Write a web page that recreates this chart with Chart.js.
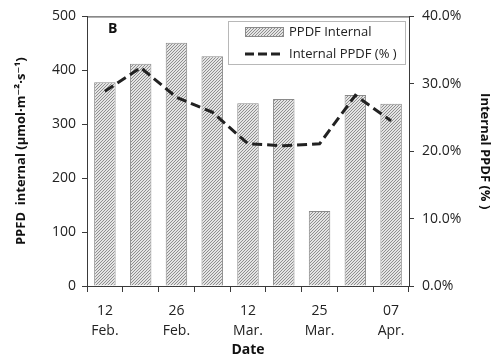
<!DOCTYPE html>
<html>
<head>
<meta charset="utf-8">
<script src="https://cdn.jsdelivr.net/npm/chart.js@4/dist/chart.umd.min.js"></script>
<style>
  html, body { margin: 0; padding: 0; background: #fff; }
  #wrap { width: 501px; height: 362px; }
</style>
</head>
<body>
<div id="wrap"><canvas id="chart" width="501" height="362"></canvas></div>
<script>
// ===== Data =====
const dateLabels   = [['12', 'Feb.'], '', ['26', 'Feb.'], '', ['12', 'Mar.'], '', ['25', 'Mar.'], '', ['07', 'Apr.']];
const ppfdInternal = [378, 412, 451, 426, 339, 347, 139, 354, 338];
const internalPct  = [28.9, 32.4, 28.0, 25.8, 21.1, 20.8, 21.1, 28.3, 24.5];
const seriesNames  = ['PPDF Internal', 'Internal PPDF (% )'];

const FONT = "'Open Sans', 'DejaVu Sans', sans-serif";
const AXIS = '#3a3a3a';

// hatched fill like the Excel pattern (3px diagonal)
function hatch() {
  const c = document.createElement('canvas');
  c.width = 3; c.height = 3;
  const g = c.getContext('2d');
  g.fillStyle = '#e4e4e4';
  g.fillRect(0, 0, 3, 3);
  g.fillStyle = '#8e8e8e';
  g.fillRect(2, 0, 1, 1);
  g.fillRect(1, 1, 1, 1);
  g.fillRect(0, 2, 1, 1);
  return g.createPattern(c, 'repeat');
}
const hatchFill = hatch();

// ===== Box, panel letter and legend =====
const extras = {
  id: 'extras',
  afterDraw(chart) {
    const { ctx, chartArea: a } = chart;
    ctx.save();
    ctx.strokeStyle = AXIS;
    ctx.lineWidth = 1;
    ctx.strokeRect(a.left + 0.5, a.top + 0.5, a.right - a.left, a.bottom - a.top);

    ctx.fillStyle = '#111';
    ctx.font = "bold 14px " + FONT;
    ctx.textBaseline = 'middle';
    ctx.fillText('B', a.left + 21, a.top + 13);

    // legend box
    const lx = 228, ly = 21, lw = 177, lh = 43;
    ctx.fillStyle = '#fff';
    ctx.fillRect(lx, ly, lw, lh);
    ctx.strokeStyle = '#b8b8b8';
    ctx.strokeRect(lx + 0.5, ly + 0.5, lw, lh);

    ctx.fillStyle = hatchFill;
    ctx.fillRect(245, 27, 38, 9);
    ctx.strokeStyle = '#8a8a8a';
    ctx.strokeRect(245.5, 27.5, 38, 9);

    ctx.strokeStyle = '#222';
    ctx.lineWidth = 3;
    ctx.setLineDash([9, 4]);
    ctx.beginPath();
    ctx.moveTo(245, 54); ctx.lineTo(284, 54);
    ctx.stroke();
    ctx.setLineDash([]);

    ctx.fillStyle = '#222';
    ctx.font = "13px " + FONT;
    ctx.fillText(seriesNames[0], 289, 32);
    ctx.fillText(seriesNames[1], 289, 54);
    ctx.restore();
  }
};

new Chart(document.getElementById('chart'), {
  data: {
    labels: dateLabels,
    datasets: [
      {
        type: 'line',
        label: seriesNames[1],
        data: internalPct,
        yAxisID: 'yPct',
        borderColor: '#222',
        borderWidth: 3,
        borderDash: [10, 5],
        pointRadius: 0,
        tension: 0,
        fill: false,
        order: 0
      },
      {
        type: 'bar',
        label: seriesNames[0],
        data: ppfdInternal,
        yAxisID: 'y',
        backgroundColor: hatchFill,
        borderColor: '#8a8a8a',
        borderWidth: 1,
        categoryPercentage: 1,
        barPercentage: 0.6,
        order: 1
      }
    ]
  },
  options: {
    responsive: false,
    animation: false,
    layout: { padding: { top: 13, left: 6, right: 6, bottom: 4 } },
    plugins: { legend: { display: false }, tooltip: { enabled: false } },
    scales: {
      x: {
        offset: true,
        grid: { offset: true, drawOnChartArea: false, color: AXIS, tickLength: 6 },
        border: { color: AXIS },
        ticks: { color: '#222', font: { family: FONT, size: 14, lineHeight: 1.45 }, maxRotation: 0, autoSkip: false, padding: 9 },
        title: { display: true, text: 'Date', color: '#111', font: { family: FONT, size: 14, weight: 'bold' }, padding: 0 },
        afterFit: s => { s.height = 362 - 286 - 4; }
      },
      y: {
        position: 'left',
        min: 0, max: 500,
        ticks: { stepSize: 100, color: '#222', font: { family: FONT, size: 14 }, padding: 6 },
        grid: { drawOnChartArea: false, color: AXIS, tickLength: 5 },
        border: { color: AXIS },
        title: { display: true, text: 'PPFD  internal (µmol·m⁻²·s⁻¹)', color: '#111', font: { family: FONT, size: 13, weight: 'bold' }, padding: { top: 7, bottom: 0 } },
        afterFit: s => { s.width = 87 - 6; }
      },
      yPct: {
        position: 'right',
        min: 0, max: 40,
        ticks: { stepSize: 10, color: '#222', font: { family: FONT, size: 14 }, padding: 8, callback: v => v.toFixed(1) + '%' },
        grid: { drawOnChartArea: false, color: AXIS, tickLength: 5 },
        border: { color: AXIS },
        title: { display: true, text: 'Internal PPDF (% )', color: '#111', font: { family: FONT, size: 13, weight: 'bold' }, padding: { top: 2, bottom: 0 } },
        afterFit: s => { s.width = 501 - 409 - 6; }
      }
    }
  },
  plugins: [extras]
});
</script>
</body>
</html>
